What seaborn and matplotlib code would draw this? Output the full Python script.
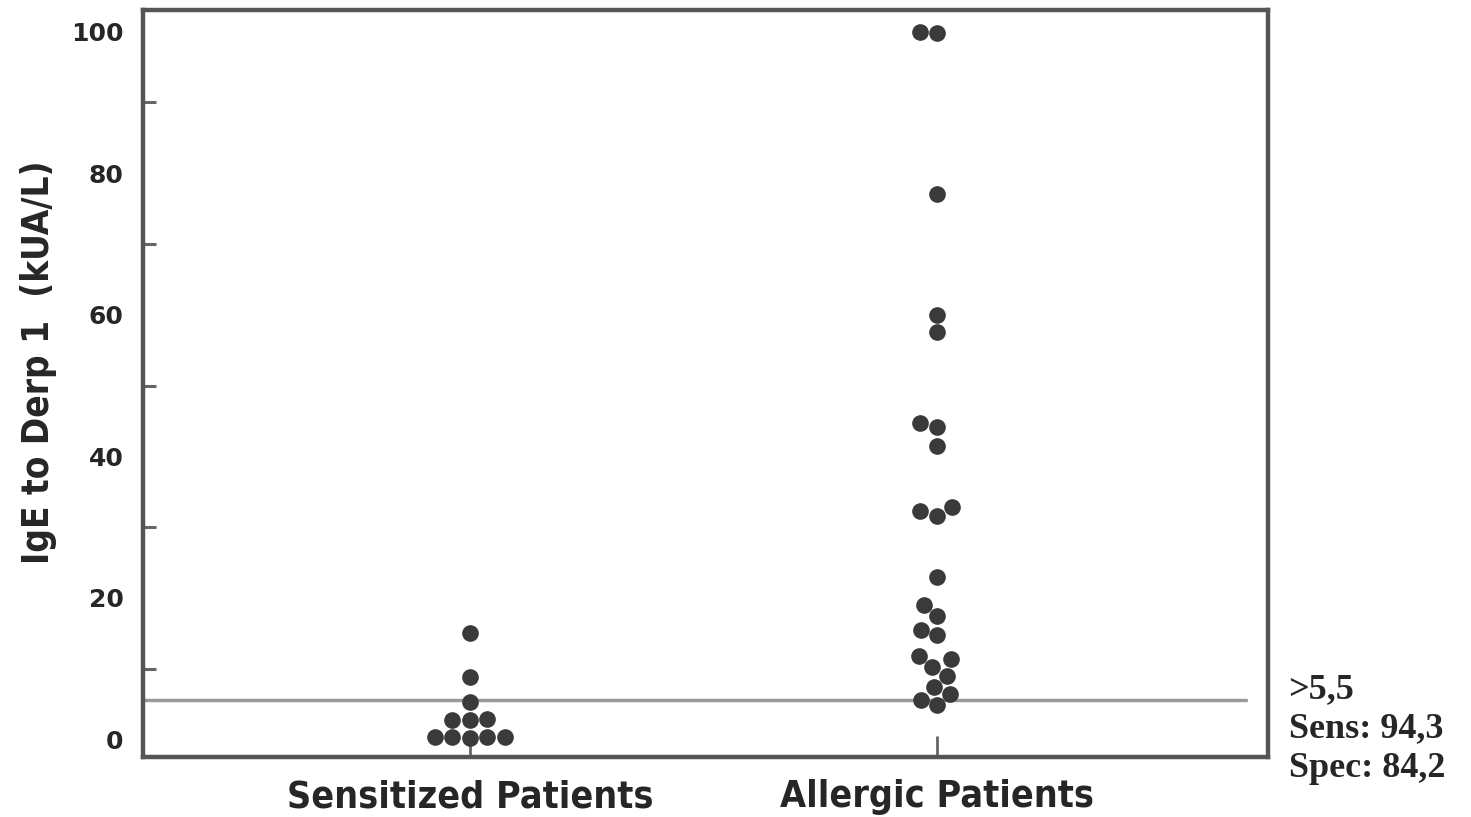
import pandas as pd
import matplotlib.pyplot as plt
import seaborn as sns
from matplotlib.ticker import MultipleLocator

# values (kUA/L)
sensitized = [15, 8.8, 5.3, 2.9, 2.8, 2.8, 0.4, 0.3, 0.3, 0.3, 0.2]
allergic = [100, 99.8, 77, 60, 57.5, 44.7, 44.2, 41.5, 32.8, 32.2, 31.6, 23,
            19, 17.5, 15.5, 14.7, 11.8, 11.3, 10.2, 9, 7.4, 6.4, 5.6, 4.8]
groups = ["Sensitized Patients", "Allergic Patients"]
cutoff = 5.5
cutoff_text = ">5,5\nSens: 94,3\nSpec: 84,2"

df = pd.DataFrame({
    "group": [groups[0]] * len(sensitized) + [groups[1]] * len(allergic),
    "value": sensitized + allergic,
})

sns.set_style("white")
fig = plt.figure(figsize=(14.71, 8.17), dpi=100)
ax = fig.add_axes([0.0972, 0.0734, 0.765, 0.9146])

sns.swarmplot(data=df, x="group", y="value", order=groups, color="#3a3a3a",
              size=12, linewidth=0, ax=ax)

# cut-off line
ax.axhline(cutoff, xmin=0, xmax=0.98, color="#9a9a9a", lw=2.5, zorder=0)

ax.set_xlim(-0.70, 1.709)
ax.set_ylim(-2.5, 103.1)
ax.yaxis.set_major_locator(MultipleLocator(20))
ax.yaxis.set_minor_locator(MultipleLocator(10))

for s in ax.spines.values():
    s.set_color("#555555")
    s.set_linewidth(3.2)

ax.tick_params(axis="y", which="major", direction="in", length=15, width=2.2,
               color="#666666", pad=14)
ax.tick_params(axis="y", which="minor", direction="in", length=9, width=2.2,
               color="#666666", left=True)
ax.tick_params(axis="x", direction="in", length=15, width=2, color="#666666",
               bottom=True, pad=16)

for lab in ax.get_yticklabels():
    lab.set_fontfamily("DejaVu Sans")
    lab.set_fontweight("bold")
    lab.set_fontsize(18)
for lab in ax.get_xticklabels():
    lab.set_fontfamily("DejaVu Sans")
    lab.set_fontstretch("condensed")
    lab.set_fontweight("bold")
    lab.set_fontsize(27)

ax.set_xlabel("")
ax.set_ylabel("IgE to Derp 1  (kUA/L)", fontsize=26.5, fontweight="bold",
              fontfamily="DejaVu Sans", fontstretch="condensed")
ax.yaxis.set_label_coords(-0.076, 0.529)

fig.text(0.876, 0.176, cutoff_text, fontsize=26, fontweight="bold",
         fontfamily="Liberation Serif", va="top", ha="left", linespacing=1.25)

plt.savefig("out.png", dpi=100)
